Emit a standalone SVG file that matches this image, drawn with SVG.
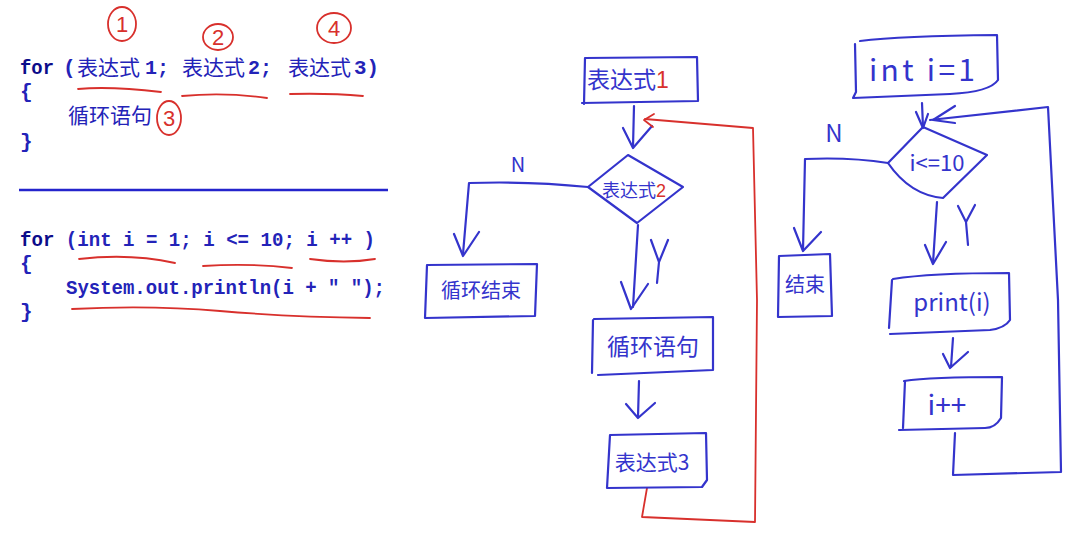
<svg xmlns="http://www.w3.org/2000/svg" width="1080" height="534" viewBox="0 0 1080 534">
<style>
.code{font-family:"Liberation Mono","Noto Sans CJK SC",monospace;font-size:21px;font-weight:bold;fill:#2323b8}
.kw{fill:#0c0c8a}
.cjk{font-family:"Noto Sans CJK SC",sans-serif;font-size:21px;fill:#2323b8}
.hand{fill:none;stroke:#3434cc;stroke-width:2.2;stroke-linecap:round;stroke-linejoin:round}
.red{fill:none;stroke:#d8302c;stroke-width:1.8;stroke-linecap:round;stroke-linejoin:round}
.ht{font-family:"Noto Sans CJK SC",sans-serif;fill:#3434cc;text-anchor:middle}
.hr{fill:#d8302c}
.num{font-family:"Liberation Sans",sans-serif;fill:#d8302c;text-anchor:middle}
</style>
<rect width="1080" height="534" fill="#ffffff"/>

<g id="code-generic">
  <text class="code kw" x="20" y="74" textLength="34" lengthAdjust="spacingAndGlyphs">for</text>
  <text class="code" x="63" y="74">(</text>
  <text class="cjk" x="77" y="75">表达式</text>
  <text class="code" x="145" y="74" textLength="24" lengthAdjust="spacingAndGlyphs">1;</text>
  <text class="cjk" x="182" y="75">表达式</text>
  <text class="code" x="248" y="74" textLength="24" lengthAdjust="spacingAndGlyphs">2;</text>
  <text class="cjk" x="288" y="75">表达式</text>
  <text class="code" x="354" y="74" textLength="25" lengthAdjust="spacingAndGlyphs">3)</text>
  <text class="code" x="20" y="98">{</text>
  <text class="cjk" x="68" y="123">循环语句</text>
  <text class="code" x="20" y="148">}</text>
</g>

<g id="code-annotations">
  <ellipse class="red" cx="122" cy="24" rx="14" ry="17"/>
  <text class="num" x="122" y="32" font-size="22">1</text>
  <ellipse class="red" cx="218" cy="37" rx="15" ry="13"/>
  <text class="num" x="218" y="45" font-size="22">2</text>
  <ellipse class="red" cx="334" cy="28" rx="17" ry="15"/>
  <text class="num" x="334" y="36" font-size="22">4</text>
  <ellipse class="red" cx="169" cy="118" rx="12" ry="17"/>
  <text class="num" x="169" y="126" font-size="22">3</text>
  <path class="red" d="M78,89 Q110,86 161,92"/>
  <path class="red" d="M182,96 Q225,92 267,98"/>
  <path class="red" d="M290,94 Q330,93 363,96"/>
  <path class="red" d="M79,259 Q130,253 175,263"/>
  <path class="red" d="M203,266 Q250,263 292,268"/>
  <path class="red" d="M310,259 Q345,264 375,259"/>
  <path class="red" d="M72,309 Q150,305 220,311 T370,318"/>
</g>

<g id="divider">
  <line x1="19" y1="190" x2="388" y2="190" stroke="#2424cc" stroke-width="2.5"/>
</g>

<g id="code-example">
  <text class="code" x="20" y="246" textLength="355" lengthAdjust="spacingAndGlyphs"><tspan class="kw">for</tspan> (int i = 1; i &lt;= 10; i ++ )</text>
  <text class="code" x="20" y="270">{</text>
  <text class="code" x="66" y="294" textLength="319" lengthAdjust="spacingAndGlyphs">System.out.println(i + &quot; &quot;);</text>
  <text class="code" x="20" y="318">}</text>
</g>

<g id="connectors">
  <!-- left flowchart -->
  <path class="hand" d="M634,106 L633,147"/>
  <path class="hand" d="M623,128 L633,148 L652,126"/>
  <path class="hand" d="M588,187 Q530,181 469,183 L463,254"/>
  <path class="hand" d="M454,234 L463,256 L479,232"/>
  <text class="ht" x="518" y="172" font-size="20" font-family="Liberation Sans">N</text>
  <path class="hand" d="M638,225 L633,307"/>
  <path class="hand" d="M621,282 L631,309 L648,284"/>
  <path class="hand" d="M651,240 L659,262 L668,240 M659,262 L657,283"/>
  <path class="hand" d="M639,381 L638,417"/>
  <path class="hand" d="M626,404 L638,418 L655,403"/>
  <path class="red" d="M647,488 L642,517 L755,522 L757,300 L753,128 L645,119"/>
  <path class="red" d="M654,114 L644,120 L653,127"/>
  <!-- right flowchart -->
  <path class="hand" d="M922,103 L923,127"/>
  <path class="hand" d="M916,112 L923,128 L928,114"/>
  <path class="hand" d="M888,163 Q850,157 805,159 L803,250"/>
  <path class="hand" d="M794,228 L803,251 L821,232"/>
  <text class="ht" x="834" y="142" font-size="24" font-family="Liberation Sans">N</text>
  <path class="hand" d="M937,202 L933,263"/>
  <path class="hand" d="M925,245 L933,264 L946,242"/>
  <path class="hand" d="M958,206 L966,222 L975,205 M966,222 L968,245"/>
  <path class="hand" d="M953,338 L951,367"/>
  <path class="hand" d="M943,354 L950,368 L968,352"/>
  <path class="hand" d="M955,433 L953,475 L1061,472 L1058,300 L1048,107 L930,120"/>
  <path class="hand" d="M955,106 L933,120 L955,123"/>
</g>

<g id="node-expr1">
  <path class="hand" d="M585,58 L697,57 L698,101 L582,103 M585,58 L584,104"/>
  <text class="ht" x="628" y="88" font-size="23">表达式<tspan class="hr" font-family="Liberation Sans">1</tspan></text>
</g>

<g id="node-expr2">
  <path class="hand" d="M588,187 L628,155 L683,187 L637,223 Z"/>
  <text class="ht" x="634" y="197" font-size="18">表达式<tspan class="hr" font-family="Liberation Sans">2</tspan></text>
</g>

<g id="node-loop-end">
  <path class="hand" d="M427,265 L537,264 L535,316 L425,318 L427,265"/>
  <text class="ht" x="481" y="298" font-size="20">循环结束</text>
</g>

<g id="node-loop-body">
  <path class="hand" d="M594,319 L713,317 L713,370 L598,375 M593,320 L592,373"/>
  <text class="ht" x="653" y="355" font-size="23">循环语句</text>
</g>

<g id="node-expr3">
  <path class="hand" d="M610,435 L706,433 L707,480 L702,487 L607,488 Z"/>
  <text class="ht" x="652" y="470" font-size="21">表达式3</text>
</g>

<g id="node-int">
  <path class="hand" d="M860,41 Q900,36 997,35 L998,80 Q990,92 950,94 L853,98 L856,92 L855,44"/>
  <text class="ht" x="922" y="81" font-size="30" font-family="Liberation Sans" textLength="106" lengthAdjust="spacing">int i=1</text>
</g>

<g id="node-cond">
  <path class="hand" d="M888,163 L923,127 L987,155 L943,198 Q910,195 888,163 Z"/>
  <text class="ht" x="937" y="171" font-size="22" font-family="Liberation Sans">i&lt;=10</text>
</g>

<g id="node-end">
  <path class="hand" d="M779,256 L830,254 L832,316 L778,317 Z"/>
  <text class="ht" x="805" y="292" font-size="20">结束</text>
</g>

<g id="node-print">
  <path class="hand" d="M893,279 Q930,273 1009,273 L1010,320 Q1005,328 990,330 L890,334 M892,280 L889,328"/>
  <text class="ht" x="952" y="311" font-size="24" font-family="Liberation Sans">print(i)</text>
</g>

<g id="node-inc">
  <path class="hand" d="M904,381 Q930,377 1002,377 L1001,418 Q995,428 985,428 L899,430 M905,381 L903,428"/>
  <text class="ht" x="947" y="415" font-size="28" font-family="Liberation Sans">i++</text>
</g>
</svg>
